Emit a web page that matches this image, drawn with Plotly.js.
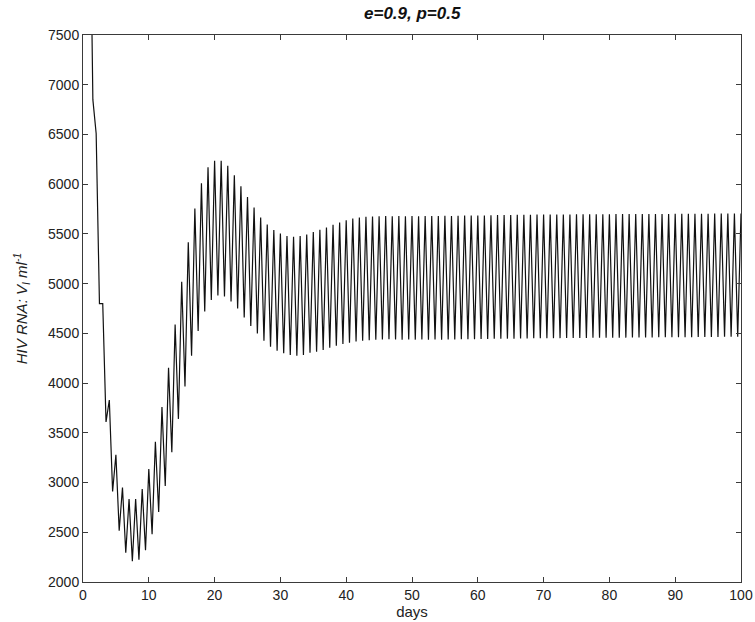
<!DOCTYPE html>
<html>
<head>
<meta charset="utf-8">
<script src="https://cdn.plot.ly/plotly-3.0.1.min.js"></script>
<style>html,body{margin:0;padding:0;background:#fff;}#chart{width:755px;height:622px;}</style>
</head>
<body>
<div id="chart"></div>
<script>
const days = [
  0, 0.5, 1, 1.5, 2, 2.5, 3, 3.5, 4, 4.5, 5, 5.5, 6, 6.5, 7, 7.5, 8, 8.5, 9, 9.5,
  10, 10.5, 11, 11.5, 12, 12.5, 13, 13.5, 14, 14.5, 15, 15.5, 16, 16.5, 17, 17.5, 18, 18.5, 19, 19.5,
  20, 20.5, 21, 21.5, 22, 22.5, 23, 23.5, 24, 24.5, 25, 25.5, 26, 26.5, 27, 27.5, 28, 28.5, 29, 29.5,
  30, 30.5, 31, 31.5, 32, 32.5, 33, 33.5, 34, 34.5, 35, 35.5, 36, 36.5, 37, 37.5, 38, 38.5, 39, 39.5,
  40, 40.5, 41, 41.5, 42, 42.5, 43, 43.5, 44, 44.5, 45, 45.5, 46, 46.5, 47, 47.5, 48, 48.5, 49, 49.5,
  50, 50.5, 51, 51.5, 52, 52.5, 53, 53.5, 54, 54.5, 55, 55.5, 56, 56.5, 57, 57.5, 58, 58.5, 59, 59.5,
  60, 60.5, 61, 61.5, 62, 62.5, 63, 63.5, 64, 64.5, 65, 65.5, 66, 66.5, 67, 67.5, 68, 68.5, 69, 69.5,
  70, 70.5, 71, 71.5, 72, 72.5, 73, 73.5, 74, 74.5, 75, 75.5, 76, 76.5, 77, 77.5, 78, 78.5, 79, 79.5,
  80, 80.5, 81, 81.5, 82, 82.5, 83, 83.5, 84, 84.5, 85, 85.5, 86, 86.5, 87, 87.5, 88, 88.5, 89, 89.5,
  90, 90.5, 91, 91.5, 92, 92.5, 93, 93.5, 94, 94.5, 95, 95.5, 96, 96.5, 97, 97.5, 98, 98.5, 99, 99.5,
  100
];
const hivRNA = [
  14000, 11000, 9350, 6850, 6510, 4800, 4800, 3610, 3830, 2910, 3280, 2515, 2950, 2295, 2835, 2210, 2835, 2225, 2935, 2320,
  3135, 2480, 3410, 2705, 3760, 2965, 4155, 3305, 4590, 3640, 5020, 3965, 5415, 4275, 5755, 4525, 6010, 4720, 6170, 4835,
  6235, 4880, 6235, 4870, 6185, 4820, 6090, 4750, 5980, 4660, 5870, 4575, 5765, 4500, 5665, 4425, 5595, 4365, 5540, 4325,
  5505, 4300, 5480, 4282, 5472, 4275, 5478, 4282, 5495, 4305, 5518, 4316, 5542, 4333, 5565, 4355, 5592, 4375, 5615, 4392,
  5638, 4405, 5655, 4418, 5665, 4425, 5672, 4432, 5675, 4436, 5678, 4438, 5680, 4440, 5678, 4438, 5680, 4436, 5678, 4438,
  5680, 4437, 5678, 4438, 5680, 4436, 5681, 4438, 5679, 4437, 5682, 4439, 5680, 4438, 5683, 4440, 5684, 4441, 5685, 4442,
  5686, 4443, 5686, 4443, 5688, 4445, 5689, 4446, 5690, 4447, 5691, 4447, 5692, 4448, 5693, 4449, 5693, 4450, 5694, 4450,
  5694, 4451, 5695, 4452, 5695, 4452, 5696, 4453, 5696, 4453, 5697, 4454, 5697, 4454, 5697, 4455, 5698, 4455, 5698, 4456,
  5698, 4456, 5699, 4457, 5699, 4457, 5699, 4458, 5700, 4458, 5700, 4459, 5700, 4459, 5701, 4460, 5701, 4460, 5701, 4461,
  5702, 4461, 5702, 4462, 5702, 4462, 5703, 4463, 5703, 4463, 5703, 4464, 5704, 4464, 5704, 4465, 5705, 4465, 5705, 4466,
  5706
];

const titleText = '<b><i>e=0.9, p=0.5</i></b>';
const xLabel = 'days';
const yLabel = '<i>HIV RNA: V<sub>I</sub> ml<sup>-1</sup></i>';

const fontFam = '"Liberation Sans Narrow", "Liberation Sans", Arial, sans-serif';

const axisCommon = {
  showgrid: false,
  zeroline: false,
  showline: true,
  linecolor: '#3a3a3a',
  linewidth: 1,
  mirror: 'ticks',
  ticks: 'inside',
  ticklen: 5,
  tickcolor: '#3a3a3a',
  tickwidth: 1,
  tickfont: {family: fontFam, size: 14, color: '#222'}
};

const trace = {
  x: days,
  y: hivRNA,
  type: 'scatter',
  mode: 'lines',
  line: {color: '#111', width: 1.2},
  hoverinfo: 'skip'
};

const layout = {
  width: 755,
  height: 622,
  margin: {l: 83, r: 14, t: 35, b: 40},
  paper_bgcolor: '#fff',
  plot_bgcolor: '#fff',
  showlegend: false,
  font: {family: fontFam, color: '#222'},
  title: {
    text: titleText,
    font: {family: fontFam, size: 17, color: '#111'},
    x: 0.546, xanchor: 'center',
    y: 0.988, yanchor: 'top'
  },
  xaxis: Object.assign({}, axisCommon, {
    range: [0, 100],
    dtick: 10,
    tick0: 0,
    title: {text: xLabel, font: {family: fontFam, size: 15, color: '#222'}, standoff: 2}
  }),
  yaxis: Object.assign({}, axisCommon, {
    range: [2000, 7500],
    dtick: 500,
    tick0: 2000,
    title: {text: yLabel, font: {family: fontFam, size: 15, color: '#222'}, standoff: 16}
  })
};

Plotly.newPlot('chart', [trace], layout, {displayModeBar: false, staticPlot: true});
</script>
</body>
</html>
